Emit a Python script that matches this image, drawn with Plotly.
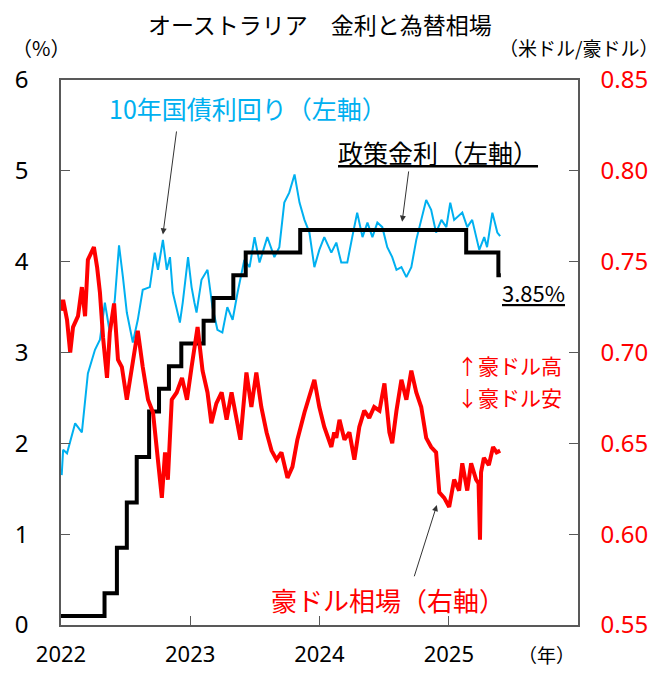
import plotly.graph_objects as go

# 10-year government bond yield (%), left axis
jgb_dates = [
    "2022-01-03", "2022-01-07", "2022-01-18", "2022-02-10", "2022-03-01", "2022-03-18",
    "2022-04-07", "2022-04-21", "2022-05-05", "2022-05-19", "2022-06-02", "2022-06-14",
    "2022-06-25", "2022-07-06", "2022-07-23", "2022-08-06", "2022-08-20", "2022-09-09",
    "2022-09-23", "2022-10-02", "2022-10-16", "2022-10-27", "2022-11-05", "2022-11-13",
    "2022-12-03", "2022-12-11", "2022-12-26", "2023-01-05", "2023-01-13", "2023-01-19",
    "2023-02-02", "2023-02-19", "2023-03-05", "2023-03-19", "2023-04-02", "2023-04-16",
    "2023-05-01", "2023-05-15", "2023-06-03", "2023-06-18", "2023-07-02", "2023-07-16",
    "2023-08-07", "2023-08-27", "2023-09-10", "2023-09-24", "2023-10-08", "2023-10-23",
    "2023-11-06", "2023-11-20", "2023-12-04", "2023-12-18", "2024-01-01", "2024-01-15",
    "2024-02-04", "2024-02-18", "2024-03-03", "2024-03-20", "2024-04-03", "2024-04-17",
    "2024-05-02", "2024-05-16", "2024-05-30", "2024-06-13", "2024-06-27", "2024-07-11",
    "2024-07-25", "2024-08-06", "2024-08-20", "2024-09-03", "2024-09-17", "2024-10-01",
    "2024-10-15", "2024-10-29", "2024-11-12", "2024-11-26", "2024-12-11", "2024-12-25",
    "2025-01-05", "2025-01-16", "2025-02-08", "2025-02-22", "2025-03-08", "2025-03-28",
    "2025-04-11", "2025-04-19", "2025-05-04", "2025-05-18", "2025-05-26",
]
jgb_yield = [
    1.65, 1.93, 1.89, 2.22, 2.12, 2.77,
    3.03, 3.14, 3.55, 3.22, 3.58, 4.18,
    3.83, 3.44, 3.11, 3.36, 3.69, 3.72,
    4.10, 3.91, 4.24, 3.91, 4.05, 3.66,
    3.33, 3.55, 4.05, 3.72, 3.55, 3.44,
    3.80, 3.91, 3.50, 3.25, 3.22, 3.50,
    3.36, 3.66, 4.02, 3.94, 4.27, 3.99,
    4.27, 4.05, 4.16, 4.65, 4.76, 4.96,
    4.65, 4.46, 4.32, 3.94, 4.13, 4.27,
    4.10, 4.21, 3.99, 3.99, 4.27, 4.54,
    4.27, 4.43, 4.27, 4.43, 4.38, 4.16,
    4.05, 3.91, 3.94, 3.83, 3.94, 4.24,
    4.46, 4.68, 4.57, 4.32, 4.46, 4.38,
    4.65, 4.46, 4.54, 4.38, 4.46, 4.13,
    4.27, 4.16, 4.54, 4.32, 4.28,
]

# RBA cash rate target (%), left axis
policy_dates = [
    "2022-01-01", "2022-05-04", "2022-06-08", "2022-07-06", "2022-08-03", "2022-09-07",
    "2022-10-05", "2022-11-02", "2022-12-07", "2023-02-08", "2023-03-08", "2023-05-03",
    "2023-06-07", "2023-11-08", "2025-02-19", "2025-05-21", "2025-05-28",
]
policy_rate = [
    0.10, 0.35, 0.85, 1.35, 1.85, 2.35,
    2.60, 2.85, 3.10, 3.35, 3.60, 3.85,
    4.10, 4.35, 4.10, 3.85, 3.85,
]

# AUD/USD, right axis
fx_dates = [
    "2022-01-03", "2022-01-07", "2022-01-18", "2022-01-27", "2022-02-04", "2022-02-18",
    "2022-03-01", "2022-03-10", "2022-03-18", "2022-04-04", "2022-04-13", "2022-04-21",
    "2022-04-30", "2022-05-11", "2022-05-19", "2022-05-31", "2022-06-11", "2022-06-22",
    "2022-07-06", "2022-07-20", "2022-08-06", "2022-08-20", "2022-09-04", "2022-09-18",
    "2022-09-29", "2022-10-13", "2022-10-22", "2022-10-30", "2022-11-10", "2022-11-24",
    "2022-12-09", "2022-12-23", "2023-01-05", "2023-01-22", "2023-02-05", "2023-02-19",
    "2023-03-02", "2023-03-16", "2023-03-31", "2023-04-14", "2023-04-28", "2023-05-12",
    "2023-05-23", "2023-06-09", "2023-06-23", "2023-07-07", "2023-07-21", "2023-08-05",
    "2023-08-19", "2023-09-02", "2023-09-16", "2023-10-03", "2023-10-17", "2023-10-31",
    "2023-11-20", "2023-12-18", "2024-01-01", "2024-01-15", "2024-02-04", "2024-02-12",
    "2024-02-18", "2024-02-27", "2024-03-12", "2024-03-26", "2024-04-09", "2024-04-23",
    "2024-05-07", "2024-05-21", "2024-06-04", "2024-06-19", "2024-07-03", "2024-07-17",
    "2024-07-25", "2024-08-06", "2024-08-20", "2024-09-03", "2024-09-17", "2024-10-01",
    "2024-10-15", "2024-10-29", "2024-11-12", "2024-11-26", "2024-12-05", "2024-12-19",
    "2025-01-02", "2025-01-16", "2025-01-30", "2025-02-08", "2025-02-22", "2025-03-05",
    "2025-03-19", "2025-03-26", "2025-03-30", "2025-04-02", "2025-04-10", "2025-04-24",
    "2025-05-06", "2025-05-16", "2025-05-26",
]
fx_rate = [
    0.723, 0.729, 0.718, 0.700, 0.714, 0.720,
    0.736, 0.720, 0.751, 0.758, 0.747, 0.733,
    0.708, 0.686, 0.711, 0.727, 0.696, 0.692,
    0.674, 0.692, 0.712, 0.692, 0.674, 0.667,
    0.648, 0.620, 0.645, 0.630, 0.674, 0.678,
    0.686, 0.674, 0.692, 0.714, 0.690, 0.678,
    0.661, 0.672, 0.678, 0.663, 0.678, 0.664,
    0.652, 0.689, 0.670, 0.689, 0.670, 0.656,
    0.646, 0.641, 0.645, 0.631, 0.637, 0.652,
    0.667, 0.685, 0.670, 0.659, 0.648, 0.656,
    0.653, 0.663, 0.652, 0.656, 0.641, 0.659,
    0.668, 0.664, 0.670, 0.668, 0.683, 0.656,
    0.650, 0.668, 0.685, 0.674, 0.690, 0.678,
    0.670, 0.653, 0.648, 0.645, 0.623, 0.620,
    0.615, 0.630, 0.624, 0.639, 0.624, 0.639,
    0.630, 0.628, 0.597, 0.634, 0.642, 0.638,
    0.648, 0.645, 0.646,
]

year_ticks = ["2022-01-01", "2023-01-01", "2024-01-01", "2025-01-01"]
year_labels = ["2022", "2023", "2024", "2025"]

FONT = "Noto Sans CJK JP"
NUM_FONT = "Noto Sans"
BLUE = "#00B0F0"
RED = "#FF0000"
FRAME = "#595959"

fig = go.Figure()

fig.add_trace(go.Scatter(x=jgb_dates, y=jgb_yield, mode="lines", name="10年国債利回り",
                         line=dict(color=BLUE, width=2)))
fig.add_trace(go.Scatter(x=policy_dates, y=policy_rate, mode="lines", name="政策金利",
                         line=dict(color="black", width=4, shape="hv")))
fig.add_trace(go.Scatter(x=fx_dates, y=fx_rate, mode="lines", name="豪ドル相場", yaxis="y2",
                         line=dict(color=RED, width=4)))

# text labels (paper coords relative to the plot area)
labels = [
    dict(text="オーストラリア　金利と為替相場", x=0.50, y=1.103, size=23, color="black", anchor="center"),
    dict(text="（%）", x=-0.099, y=1.059, size=20, color="black", anchor="left"),
    dict(text="（米ドル/豪ドル）", x=1.159, y=1.059, size=19, color="black", anchor="right"),
    dict(text="（年）", x=0.94, y=-0.055, size=19, color="black", anchor="center"),
    dict(text="10年国債利回り（左軸）", x=0.362, y=0.949, size=25, color=BLUE, anchor="center"),
    dict(text="<u>政策金利（左軸）</u>", x=0.729, y=0.868, size=25, color="black", anchor="center"),
    dict(text="<u>3.85%</u>", x=0.913, y=0.611, size=22, color="black", anchor="center"),
    dict(text="↑豪ドル高", x=0.762, y=0.477, size=21, color=RED, anchor="left"),
    dict(text="↓豪ドル安", x=0.762, y=0.418, size=21, color=RED, anchor="left"),
    dict(text="豪ドル相場（右軸）", x=0.632, y=0.046, size=26, color=RED, anchor="center"),
]
for lb in labels:
    fig.add_annotation(text=lb["text"], x=lb["x"], y=lb["y"], xref="paper", yref="paper",
                       xanchor=lb["anchor"], yanchor="middle", showarrow=False,
                       font=dict(family=FONT, size=lb["size"], color=lb["color"]))

# pointer arrows (tail -> head, left axis units)
arrows = [
    dict(x="2022-10-16", y=4.30, ax="2022-11-24", ay=5.45),
    dict(x="2024-08-22", y=4.44, ax="2024-09-10", ay=5.01),
    dict(x="2024-11-28", y=1.32, ax="2024-09-24", ay=0.52),
]
for ar in arrows:
    fig.add_annotation(text="", x=ar["x"], y=ar["y"], ax=ar["ax"], ay=ar["ay"],
                       xref="x", yref="y", axref="x", ayref="y",
                       showarrow=True, arrowhead=2, arrowsize=1.2, arrowwidth=1,
                       arrowcolor="#333333")

tick_font = dict(family=NUM_FONT, size=24, color="black")
# page body adds an 8px offset, so the figure is 8px smaller than the window
fig.update_layout(
    width=658, height=665,
    margin=dict(l=53, r=88, t=72, b=48),
    paper_bgcolor="white", plot_bgcolor="white",
    showlegend=False,
    xaxis=dict(type="date", range=["2022-01-01", "2026-01-01"],
               tickvals=year_ticks, ticktext=year_labels,
               ticks="inside", ticklen=9, tickcolor=FRAME, tickwidth=1,
               showline=True, linecolor=FRAME, linewidth=1.5, mirror=True,
               showgrid=False, zeroline=False,
               tickfont=dict(family=NUM_FONT, size=22, color="black"),
               ticklabelstandoff=9, automargin=False),
    yaxis=dict(range=[0, 6], dtick=1, ticks="inside", ticklen=9, tickcolor=FRAME,
               showline=True, linecolor=FRAME, linewidth=1.5, mirror=True,
               showgrid=False, zeroline=False, tickfont=tick_font,
               ticklabelstandoff=26, automargin=False),
    yaxis2=dict(range=[0.55, 0.85], dtick=0.05, tickformat=".2f", overlaying="y", side="right",
                ticks="inside", ticklen=9, tickcolor=FRAME,
                showline=True, linecolor=FRAME, linewidth=1.5,
                showgrid=False, zeroline=False,
                tickfont=dict(family=NUM_FONT, size=24, color=RED),
                ticklabelstandoff=16, automargin=False),
)

fig.write_html("out.html")
